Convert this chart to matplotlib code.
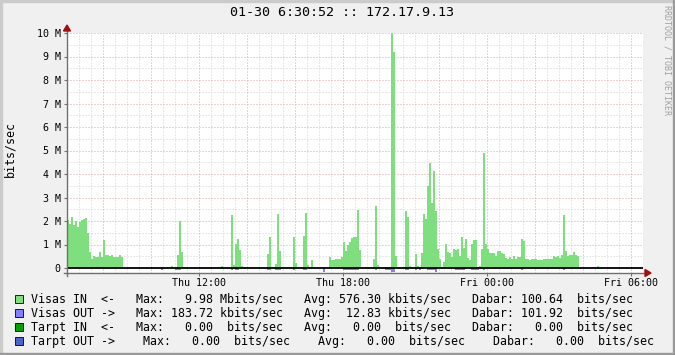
import matplotlib
matplotlib.use("Agg")
import matplotlib.pyplot as plt
from matplotlib.patches import Rectangle, Polygon
from matplotlib.lines import Line2D
import numpy as np

# ---------------- data ----------------
title = "01-30 6:30:52 :: 172.17.9.13"
y_label = "bits/sec"
watermark = "RRDTOOL / TOBI OETIKER"

start_hour = 6 + 30 / 60 + 52 / 3600          # Thu 06:30:52
first_sample_hour = 6.5                       # 5-minute samples from Thu 06:30
step_hours = 5 / 60

tick_hours = [12, 18, 24, 30]
tick_labels = ["Thu 12:00", "Thu 18:00", "Fri 00:00", "Fri 06:00"]
y_ticks = [0, 1, 2, 3, 4, 5, 6, 7, 8, 9, 10]
y_tick_labels = ["0", "1 M", "2 M", "3 M", "4 M", "5 M", "6 M", "7 M", "8 M", "9 M", "10 M"]

# Visas IN, Mbit/s, one value per 5 minutes (12 per row = 1 hour)
visas_in = [
    2.04, 1.87, 2.16, 1.83, 1.99, 1.76, 1.96, 2.04, 2.09, 2.13, 1.49, 0.68,
    0.37, 0.51, 0.45, 0.45, 0.68, 0.45, 1.19, 0.55, 0.55, 0.51, 0.55, 0.48,
    0.48, 0.48, 0.55, 0.47, 0, 0, 0, 0, 0, 0, 0, 0,
    0, 0, 0, 0, 0, 0, 0, 0, 0, 0, 0, 0,
    0, 0, 0, 0, 0.08, 0, 0, 0.55, 1.99, 0.68, 0, 0,
    0, 0, 0, 0, 0, 0, 0, 0, 0, 0, 0, 0,
    0, 0, 0, 0, 0, 0.085, 0, 0, 0, 0, 2.26, 0.11,
    1.02, 1.23, 0.77, 0.085, 0, 0, 0, 0, 0, 0, 0, 0,
    0, 0, 0, 0.03, 0.6, 1.32, 0.04, 0.04, 0.17, 2.3, 0.72, 0,
    0, 0, 0, 0, 0, 1.32, 0.21, 0, 0, 0, 1.36, 2.34,
    0.13, 0, 0.34, 0, 0, 0, 0, 0, 0, 0, 0, 0.47,
    0.34, 0.34, 0.38, 0.38, 0.38, 0.47, 1.1, 0.72, 0.98, 1.1, 1.28, 1.32,
    1.32, 2.47, 0.77, 0, 0, 0, 0, 0, 0, 0.38, 2.64, 0.13,
    0, 0, 0, 0.04, 0.04, 0.04, 9.98, 9.2, 0.51, 0, 0, 0,
    0, 2.43, 2.17, 0.085, 0, 0, 0.6, 0.085, 0.04, 0.64, 2.3, 2.09,
    3.49, 4.47, 2.77, 4.13, 2.43, 0.81, 0.38, 0.04, 0.26, 1.02, 0.68, 0.64,
    0.47, 0.81, 0.77, 0.81, 0.51, 1.32, 0.85, 1.23, 0.43, 0.34, 1.02, 1.19,
    1.19, 0.04, 0.085, 0.81, 4.89, 1.02, 0.81, 0.64, 0.64, 0.64, 0.51, 0.72,
    0.72, 0.64, 0.6, 0.43, 0.38, 0.47, 0.38, 0.51, 0.38, 0.47, 0.47, 1.23,
    1.15, 0.38, 0.38, 0.34, 0.38, 0.38, 0.38, 0.34, 0.34, 0.34, 0.38, 0.38,
    0.38, 0.38, 0.38, 0.51, 0.47, 0.51, 0.43, 0.55, 2.26, 0.72, 0.51, 0.55,
    0.55, 0.68, 0.55, 0.51, 0, 0, 0, 0, 0, 0, 0, 0,
    0, 0.085, 0, 0, 0, 0, 0, 0, 0, 0, 0, 0,
    0, 0, 0, 0, 0, 0, 0, 0, 0, 0, 0, 0,
]

# Visas OUT, Mbit/s (drawn below zero)
visas_out = [
    0, 0, 0, 0, 0, 0, 0, 0, 0, 0, 0, 0,
    0, 0, 0, 0, 0, 0, 0, 0, 0, 0, 0, 0,
    0, 0, 0, 0, 0, 0, 0, 0, 0, 0, 0, 0,
    0, 0, 0, 0, 0, 0, 0, 0, 0, 0, 0, 0.08,
    0, 0, 0, 0, 0, 0, 0.08, 0.08, 0.08, 0, 0, 0,
    0, 0, 0, 0, 0, 0, 0, 0, 0, 0, 0, 0,
    0, 0, 0, 0, 0, 0, 0, 0, 0, 0, 0.08, 0,
    0.08, 0.08, 0, 0, 0, 0, 0, 0, 0, 0, 0, 0,
    0, 0, 0, 0, 0.08, 0.08, 0, 0, 0.08, 0.08, 0.08, 0,
    0, 0, 0, 0, 0, 0.08, 0, 0, 0, 0, 0.08, 0.08,
    0, 0, 0, 0, 0, 0, 0, 0, 0.17, 0, 0, 0,
    0, 0, 0, 0, 0, 0, 0.08, 0.08, 0.08, 0.08, 0.08, 0.08,
    0.08, 0.08, 0, 0, 0, 0, 0, 0, 0, 0, 0.08, 0,
    0, 0, 0, 0.08, 0.08, 0.08, 0.18, 0.18, 0, 0, 0, 0,
    0, 0.1, 0.08, 0, 0, 0, 0.08, 0, 0.08, 0, 0, 0,
    0.08, 0.08, 0.08, 0.08, 0.16, 0, 0, 0, 0, 0, 0, 0,
    0, 0, 0.08, 0.08, 0.08, 0.08, 0.08, 0, 0, 0, 0.08, 0.08,
    0.08, 0.08, 0, 0, 0.08, 0, 0, 0, 0, 0, 0, 0,
    0, 0, 0, 0, 0, 0, 0, 0, 0, 0, 0, 0.08,
    0, 0, 0, 0, 0, 0, 0, 0, 0, 0, 0, 0,
    0, 0, 0, 0, 0, 0, 0, 0, 0.08, 0, 0, 0,
    0, 0, 0, 0, 0, 0, 0, 0, 0, 0, 0, 0,
    0, 0, 0, 0, 0, 0, 0, 0, 0, 0, 0, 0,
    0, 0, 0, 0, 0, 0, 0, 0, 0, 0, 0, 0,
]

legend_colors = ["#7FDF7F", "#8080FF", "#00A000", "#4A64C8"]
legend_rows = [
    "Visas IN  <-   Max:   9.98 Mbits/sec   Avg: 576.30 kbits/sec   Dabar: 100.64  bits/sec",
    "Visas OUT ->   Max: 183.72 kbits/sec   Avg:  12.83 kbits/sec   Dabar: 101.92  bits/sec",
    "Tarpt IN  <-   Max:   0.00  bits/sec   Avg:   0.00  bits/sec   Dabar:   0.00  bits/sec",
    "Tarpt OUT ->    Max:   0.00  bits/sec    Avg:   0.00  bits/sec    Dabar:   0.00  bits/sec",
]

# ---------------- figure ----------------
W, H = 675, 355
MONO = "DejaVu Sans Mono"
fig = plt.figure(figsize=(W / 100, H / 100), dpi=100, facecolor="#F0F0F0")


def fx(x):
    return x / W


def fy(y):
    return 1 - y / H


# frame shading
fig.patches.append(Rectangle((0, fy(2)), 1, 2 / H, transform=fig.transFigure, color="#CBCBCB", zorder=0))
fig.patches.append(Rectangle((0, 0), 2 / W, 1, transform=fig.transFigure, color="#CBCBCB", zorder=0))
fig.patches.append(Rectangle((fx(673), 0), 2 / W, 1, transform=fig.transFigure, color="#999999", zorder=1))
fig.patches.append(Rectangle((0, 0), 1, 2 / H, transform=fig.transFigure, color="#999999", zorder=1))

ax_left, ax_right, ax_top, ax_bottom = 67, 643, 33, 273
ax = fig.add_axes([fx(ax_left), fy(ax_bottom), (ax_right - ax_left) / W, (ax_bottom - ax_top) / H])
ax.set_facecolor("white")
ymin = -(ax_bottom - 268) / 23.5
ax.set_xlim(start_hour, start_hour + 24)
ax.set_ylim(ymin, 10)
for s in ax.spines.values():
    s.set_visible(False)

# grid
dots = (0, (1, 2))
for h in np.arange(7.0, 30.51, 0.5):
    major = abs(h % 2) < 1e-9
    ax.axvline(h, color="#E3A5A5" if major else "#D2D2D2", ls=dots, lw=0.72, zorder=1 + major)
for v in np.arange(0.5, 10.01, 0.5):
    major = abs(v % 1) < 1e-9
    ax.axhline(v, color="#E3A5A5" if major else "#D2D2D2", ls=dots, lw=0.72, zorder=1 + major)

times = [first_sample_hour + i * step_hours for i in range(len(visas_in))]
ax.bar(times, visas_in, width=step_hours, align="edge", color=legend_colors[0], lw=0, zorder=3)
ax.bar(times, [-v for v in visas_out], width=step_hours, align="edge", color=legend_colors[1], lw=0, zorder=3)
ax.axhline(0, color="black", lw=1.3, zorder=5)

# ticks
ax.set_yticks(y_ticks)
ax.set_yticklabels(y_tick_labels, fontsize=7.2, family=MONO)
ax.set_xticks(tick_hours)
ax.set_xticklabels(tick_labels, fontsize=7.2, family=MONO)
ax.tick_params(axis="y", length=2, width=0.8, color="#707070", pad=2.6)
ax.tick_params(axis="x", length=2, width=0.8, color="#707070", pad=1.5)

# axis lines + arrows
axis_col = "#707070"
fig.lines.append(Line2D([fx(67), fx(67)], [fy(28), fy(276)], transform=fig.transFigure, color=axis_col, lw=1.0, zorder=6))
fig.lines.append(Line2D([fx(64), fx(646)], [fy(273), fy(273)], transform=fig.transFigure, color=axis_col, lw=1.0, zorder=6))
arrow_col = "#A01010"
fig.patches.append(Polygon([(fx(63.5), fy(31)), (fx(70.5), fy(31)), (fx(67), fy(25))], closed=True,
                           transform=fig.transFigure, color=arrow_col, zorder=7))
fig.patches.append(Polygon([(fx(645), fy(269.5)), (fx(645), fy(276.5)), (fx(651), fy(273))], closed=True,
                           transform=fig.transFigure, color=arrow_col, zorder=7))

# texts
fig.text(fx(342), fy(13), title, ha="center", va="center", fontsize=9.65, family=MONO, color="black")
fig.text(fx(10), fy(149), y_label, ha="center", va="center", rotation=90, fontsize=8.4, family=MONO)
fig.text(fx(667), fy(60), watermark, ha="center", va="center", rotation=270, fontsize=6, family=MONO, color="#A0A0A0")

row_y = [299, 313, 327, 341]
for col, txt, y in zip(legend_colors, legend_rows, row_y):
    fig.patches.append(Rectangle((fx(15), fy(y + 4)), 8 / W, 8 / H, transform=fig.transFigure,
                                 facecolor=col, edgecolor="black", lw=0.6, zorder=3))
    fig.text(fx(31), fy(y), txt, ha="left", va="center", fontsize=8.4, family=MONO, color="black")

fig.savefig("out.png", dpi=100, facecolor=fig.get_facecolor())
